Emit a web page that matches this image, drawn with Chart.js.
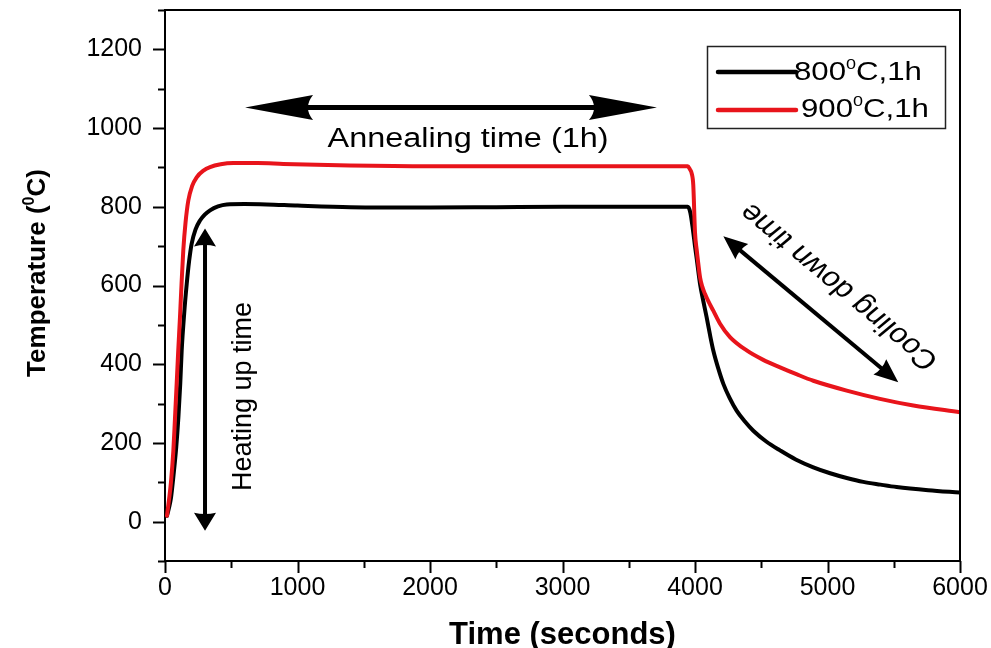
<!DOCTYPE html>
<html>
<head>
<meta charset="utf-8">
<script src="https://cdn.jsdelivr.net/npm/chart.js@4/dist/chart.umd.min.js"></script>
<style>
  html, body { margin: 0; padding: 0; background: #ffffff; }
  #wrap { width: 991px; height: 648px; }
</style>
</head>
<body>
<div id="wrap"><canvas id="chart" width="991" height="648"></canvas></div>
<script>
// Furnace temperature profiles: time (s) vs temperature (°C)
const time800 = [15, 30, 45, 65, 85, 101, 115, 126, 145, 164, 182, 201, 230, 264, 300, 340, 400, 465, 600, 767, 1000, 1400, 2000, 2500, 3000, 3500, 3945, 3965, 3985, 4000, 4013, 4038, 4063, 4088, 4113, 4138, 4175, 4214, 4260, 4314, 4375, 4440, 4540, 4642, 4760, 4893, 5020, 5145, 5270, 5400, 5522, 5760, 6000];
const temp800 = [15, 35, 60, 120, 190, 265, 350, 435, 530, 604, 662, 706, 742, 765, 780, 791, 801, 806, 807, 806, 803, 799, 798, 799, 800, 800, 800, 785, 740, 700, 668, 604, 560, 519, 475, 435, 390, 350, 315, 282, 255, 231, 203, 181, 158, 138, 123, 111, 101, 94, 88, 80, 74];

const time900 = [15, 30, 45, 63, 75, 88, 100, 113, 125, 138, 155, 176, 205, 239, 290, 340, 420, 516, 700, 893, 1396, 2000, 2500, 3000, 3500, 3945, 3962, 3975, 3987, 4000, 4013, 4025, 4038, 4055, 4075, 4105, 4138, 4189, 4264, 4390, 4515, 4642, 4770, 4893, 5145, 5396, 5648, 6000];
const temp900 = [15, 55, 100, 180, 260, 350, 435, 519, 605, 689, 760, 816, 853, 875, 892, 901, 908, 911, 911, 909, 905, 903, 903, 903, 903, 903, 895, 885, 855, 735, 690, 655, 621, 597, 579, 557, 536, 503, 469, 435, 411, 392, 374, 358, 333, 312, 295, 278];

const xTicks = [0, 1000, 2000, 3000, 4000, 5000, 6000];
const yTicks = [0, 200, 400, 600, 800, 1000, 1200];
const xMinorStep = 500;
const yMinorStep = 100;

const seriesNames = ['800', '900'];   // legend: <value>⁰C,1h
const seriesColors = ['#000000', '#e8141b'];

const FONT = "'Liberation Sans', Arial, Helvetica, sans-serif";
const STRETCH = 1.2;

function toXY(ts, vs) { return ts.map((t, i) => ({ x: t, y: vs[i] })); }

// annotation anchors, in data units
const notes = {
  annealArrow: { t1: 604, t2: 3713, v: 1052 },
  annealText:  { t: 2287, v: 970, text: 'Annealing time (1h)' },
  heatArrow:   { t: 302, v1: 745, v2: -23 },
  heatText:    { t: 590, v: 318, text: 'Heating up time' },
  coolArrow:   { t1: 4214, v1: 725, t2: 5534, v2: 354 },
  coolText:    { t: 5090, v: 598, text: 'Cooling down time' }
};

function arrowHead(ctx, tx, ty, fx, fy, len, half) {
  const a = Math.atan2(ty - fy, tx - fx);
  ctx.save();
  ctx.translate(tx, ty);
  ctx.rotate(a);
  ctx.beginPath();
  ctx.moveTo(0, 0);
  ctx.lineTo(-len, -half);
  ctx.quadraticCurveTo(-len * 0.85, 0, -len, half);
  ctx.closePath();
  ctx.fill();
  ctx.restore();
}

function doubleArrow(ctx, x1, y1, x2, y2, lw, len, half) {
  const a = Math.atan2(y2 - y1, x2 - x1);
  const c = Math.cos(a), s = Math.sin(a);
  ctx.lineWidth = lw;
  ctx.beginPath();
  ctx.moveTo(x1 + c * len * 0.8, y1 + s * len * 0.8);
  ctx.lineTo(x2 - c * len * 0.8, y2 - s * len * 0.8);
  ctx.stroke();
  arrowHead(ctx, x1, y1, x2, y2, len, half);
  arrowHead(ctx, x2, y2, x1, y1, len, half);
}

function labelText(ctx, text, x, y, font, rot, sx) {
  ctx.save();
  ctx.translate(x, y);
  ctx.scale(sx, 1);
  ctx.rotate(rot);
  ctx.font = font;
  ctx.textAlign = 'center';
  ctx.textBaseline = 'middle';
  ctx.fillText(text, 0, 0);
  ctx.restore();
}

// text runs: [{t, font, rise}], drawn left to right from the origin
function runs(ctx, parts) {
  let x = 0;
  parts.forEach(p => {
    ctx.font = p.font;
    ctx.fillText(p.t, x, -(p.rise || 0));
    x += ctx.measureText(p.t).width;
  });
  return x;
}
function runsWidth(ctx, parts) {
  let w = 0;
  parts.forEach(p => { ctx.font = p.font; w += ctx.measureText(p.t).width; });
  return w;
}

const decorations = {
  id: 'decorations',
  afterDraw(chart) {
    const ctx = chart.ctx;
    const ca = chart.chartArea;
    const xs = chart.scales.x, ys = chart.scales.y;
    ctx.save();
    ctx.strokeStyle = '#000';
    ctx.fillStyle = '#000';
    ctx.lineCap = 'butt';

    // frame (top and right edges)
    ctx.lineWidth = 2;
    ctx.beginPath();
    ctx.moveTo(ca.left, ca.top);
    ctx.lineTo(ca.right, ca.top);
    ctx.lineTo(ca.right, ca.bottom);
    ctx.stroke();

    // tick marks, major and minor, pointing outwards
    for (let v = ys.min; v <= ys.max + 0.001; v += yMinorStep) {
      const py = Math.round(ys.getPixelForValue(v)) + 0.5;
      const len = yTicks.includes(v) ? 12 : 7;
      ctx.beginPath();
      ctx.moveTo(ca.left - len, py);
      ctx.lineTo(ca.left, py);
      ctx.stroke();
    }
    for (let v = xs.min; v <= xs.max + 0.001; v += xMinorStep) {
      const px = Math.round(xs.getPixelForValue(v)) + 0.5;
      const len = xTicks.includes(v) ? 12 : 7;
      ctx.beginPath();
      ctx.moveTo(px, ca.bottom);
      ctx.lineTo(px, ca.bottom + len);
      ctx.stroke();
    }

    // axis titles
    ctx.textAlign = 'left';
    ctx.textBaseline = 'alphabetic';
    const xt = [{ t: 'Time (seconds)', font: 'bold 31px ' + FONT }];
    const xw = runsWidth(ctx, xt);
    ctx.save();
    ctx.translate((ca.left + ca.right) / 2 - xw / 2, 644);
    runs(ctx, xt);
    ctx.restore();

    const yt = [
      { t: 'Temperature (', font: 'bold 26px ' + FONT },
      { t: '0', font: 'bold 16px ' + FONT, rise: 11 },
      { t: 'C)', font: 'bold 26px ' + FONT }
    ];
    const yw = runsWidth(ctx, yt);
    ctx.save();
    ctx.translate(45, 273);
    ctx.rotate(-Math.PI / 2);
    ctx.translate(-yw / 2, 0);
    runs(ctx, yt);
    ctx.restore();

    // annotations
    const A = notes.annealArrow;
    doubleArrow(ctx, xs.getPixelForValue(A.t1), ys.getPixelForValue(A.v),
                xs.getPixelForValue(A.t2), ys.getPixelForValue(A.v), 5, 68, 12.5);
    labelText(ctx, notes.annealText.text, xs.getPixelForValue(notes.annealText.t),
              ys.getPixelForValue(notes.annealText.v), '27px ' + FONT, 0, STRETCH);

    const H = notes.heatArrow;
    doubleArrow(ctx, xs.getPixelForValue(H.t), ys.getPixelForValue(H.v1),
                xs.getPixelForValue(H.t), ys.getPixelForValue(H.v2), 4, 18, 11);
    labelText(ctx, notes.heatText.text, xs.getPixelForValue(notes.heatText.t),
              ys.getPixelForValue(notes.heatText.v), '27px ' + FONT, -Math.PI / 2, 1);

    const C = notes.coolArrow;
    doubleArrow(ctx, xs.getPixelForValue(C.t1), ys.getPixelForValue(C.v1),
                xs.getPixelForValue(C.t2), ys.getPixelForValue(C.v2), 4, 24, 10);
    labelText(ctx, notes.coolText.text, xs.getPixelForValue(notes.coolText.t),
              ys.getPixelForValue(notes.coolText.v), '27px ' + FONT, -Math.PI * 3 / 4, STRETCH);

    // legend
    const bx = ca.right - 253, by = ca.top + 36, bw = 238, bh = 82;
    ctx.lineWidth = 1.5;
    ctx.strokeStyle = '#222';
    ctx.strokeRect(bx + 0.5, by + 0.5, bw, bh);
    const rows = [
      { lineY: by + 26, textY: by + 34, textX: bx + 87 },
      { lineY: by + 64, textY: by + 71, textX: bx + 94 }
    ];
    rows.forEach((r, i) => {
      ctx.strokeStyle = seriesColors[i];
      ctx.lineWidth = 4.5;
      ctx.lineCap = 'round';
      ctx.beginPath();
      ctx.moveTo(bx + 11, r.lineY);
      ctx.lineTo(bx + 89, r.lineY);
      ctx.stroke();
      ctx.fillStyle = '#000';
      ctx.save();
      ctx.translate(r.textX, r.textY);
      ctx.scale(STRETCH, 1);
      runs(ctx, [
        { t: seriesNames[i], font: '26px ' + FONT },
        { t: '0', font: '15px ' + FONT, rise: 11 },
        { t: 'C,1h', font: '26px ' + FONT }
      ]);
      ctx.restore();
    });

    ctx.restore();
  }
};

function fixBox(size) {
  return s => {
    if (s.isHorizontal()) { s.height = size; } else { s.width = size; }
    s.paddingTop = 0; s.paddingBottom = 0; s.paddingLeft = 0; s.paddingRight = 0;
  };
}

new Chart(document.getElementById('chart'), {
  type: 'line',
  data: {
    datasets: [
      {
        label: '800 C,1h',
        data: toXY(time800, temp800),
        borderColor: seriesColors[0],
        borderWidth: 4,
        pointRadius: 0,
        cubicInterpolationMode: 'monotone',
        borderJoinStyle: 'round',
        borderCapStyle: 'round',
        order: 2
      },
      {
        label: '900 C,1h',
        data: toXY(time900, temp900),
        borderColor: seriesColors[1],
        borderWidth: 4,
        pointRadius: 0,
        cubicInterpolationMode: 'monotone',
        borderJoinStyle: 'round',
        borderCapStyle: 'round',
        order: 1
      }
    ]
  },
  options: {
    responsive: false,
    animation: false,
    events: [],
    layout: { padding: { left: 0, right: 31, top: 10, bottom: 0 } },
    plugins: { legend: { display: false }, tooltip: { enabled: false } },
    scales: {
      x: {
        type: 'linear',
        min: 0,
        max: 6000,
        afterBuildTicks: s => { s.ticks = xTicks.map(v => ({ value: v })); },
        afterFit: fixBox(87),
        grid: { display: false, drawTicks: false },
        border: { display: true, color: '#000', width: 2 },
        ticks: { color: '#000', font: { family: FONT, size: 25 }, padding: 12, maxRotation: 0, autoSkip: false,
                 callback: v => String(v) }
      },
      y: {
        type: 'linear',
        min: -100,
        max: 1300,
        afterBuildTicks: s => { s.ticks = yTicks.map(v => ({ value: v })); },
        afterFit: fixBox(165),
        grid: { display: false, drawTicks: false },
        border: { display: true, color: '#000', width: 2 },
        ticks: { color: '#000', font: { family: FONT, size: 25 }, padding: 23,
                 callback: v => String(v) }
      }
    }
  },
  plugins: [decorations]
});
</script>
</body>
</html>
